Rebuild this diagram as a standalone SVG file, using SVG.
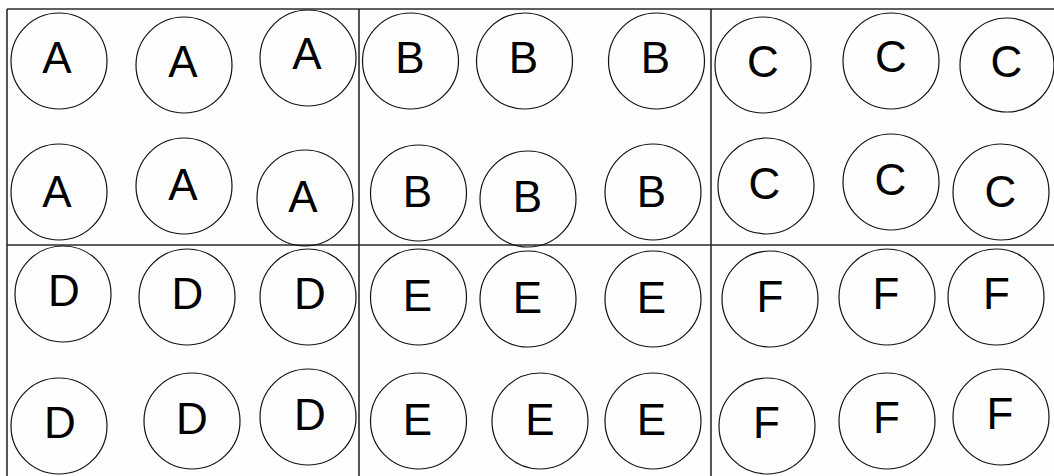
<svg xmlns="http://www.w3.org/2000/svg" width="1054" height="476" viewBox="0 0 1054 476">
<style>
.g{stroke:#2a2a2a;stroke-width:1.6;fill:none}
.n circle{fill:none;stroke:#111;stroke-width:1.2}
.n text{font-family:"Liberation Sans",Arial,sans-serif;font-size:44px;fill:#000;text-anchor:middle}
</style>
<rect width="1054" height="476" fill="#fefefe"/>
<g id="grid" class="g">
<line x1="7" y1="9" x2="1054" y2="9"/>
<line x1="7" y1="9" x2="7" y2="476"/>
<line x1="359" y1="9" x2="359" y2="476"/>
<line x1="711" y1="9" x2="711" y2="476"/>
<line x1="7" y1="245" x2="1054" y2="245"/>
</g>
<g id="A1" class="n"><circle cx="59" cy="61" r="48"/><text x="57" y="73">A</text></g>
<g id="A2" class="n"><circle cx="184" cy="65" r="48"/><text x="183" y="77">A</text></g>
<g id="A3" class="n"><circle cx="308" cy="58" r="48"/><text x="307" y="69">A</text></g>
<g id="A4" class="n"><circle cx="59" cy="192" r="48"/><text x="57" y="207">A</text></g>
<g id="A5" class="n"><circle cx="184" cy="186" r="48"/><text x="183" y="200">A</text></g>
<g id="A6" class="n"><circle cx="305" cy="198" r="48"/><text x="303" y="212">A</text></g>
<g id="B1" class="n"><circle cx="410.5" cy="61" r="48"/><text x="410" y="73">B</text></g>
<g id="B2" class="n"><circle cx="524.5" cy="61" r="48"/><text x="523.5" y="73">B</text></g>
<g id="B3" class="n"><circle cx="656.5" cy="61" r="48"/><text x="655.5" y="73">B</text></g>
<g id="B4" class="n"><circle cx="418.5" cy="193" r="48"/><text x="417.5" y="207">B</text></g>
<g id="B5" class="n"><circle cx="528" cy="199" r="48"/><text x="527.5" y="212">B</text></g>
<g id="B6" class="n"><circle cx="653" cy="192" r="48"/><text x="651.5" y="207">B</text></g>
<g id="C1" class="n"><circle cx="763" cy="65" r="48"/><text x="763" y="77">C</text></g>
<g id="C2" class="n"><circle cx="891" cy="61" r="48"/><text x="891" y="72">C</text></g>
<g id="C3" class="n"><circle cx="1007" cy="65" r="47"/><text x="1006.5" y="77">C</text></g>
<g id="C4" class="n"><circle cx="766" cy="186" r="48"/><text x="764.5" y="199">C</text></g>
<g id="C5" class="n"><circle cx="891" cy="182" r="48"/><text x="890.5" y="195">C</text></g>
<g id="C6" class="n"><circle cx="1001" cy="192" r="48"/><text x="1000.5" y="207">C</text></g>
<g id="D1" class="n"><circle cx="63" cy="294" r="48"/><text x="64" y="306">D</text></g>
<g id="D2" class="n"><circle cx="187" cy="297" r="48"/><text x="187.5" y="309">D</text></g>
<g id="D3" class="n"><circle cx="308" cy="297" r="48"/><text x="310" y="309">D</text></g>
<g id="D4" class="n"><circle cx="59" cy="426" r="48"/><text x="60" y="438">D</text></g>
<g id="D5" class="n"><circle cx="192" cy="421" r="48"/><text x="192" y="434">D</text></g>
<g id="D6" class="n"><circle cx="308" cy="417" r="48"/><text x="310" y="430">D</text></g>
<g id="E1" class="n"><circle cx="418.5" cy="297" r="48"/><text x="417.5" y="311">E</text></g>
<g id="E2" class="n"><circle cx="528" cy="299" r="48"/><text x="527.5" y="313">E</text></g>
<g id="E3" class="n"><circle cx="653" cy="299" r="48"/><text x="651.5" y="313">E</text></g>
<g id="E4" class="n"><circle cx="418.5" cy="421" r="48"/><text x="417.5" y="435">E</text></g>
<g id="E5" class="n"><circle cx="540" cy="421" r="48"/><text x="540" y="435">E</text></g>
<g id="E6" class="n"><circle cx="653" cy="421" r="48"/><text x="651.5" y="435">E</text></g>
<g id="F1" class="n"><circle cx="770" cy="299" r="48"/><text x="770" y="312">F</text></g>
<g id="F2" class="n"><circle cx="887" cy="297" r="48"/><text x="886" y="309">F</text></g>
<g id="F3" class="n"><circle cx="996" cy="297" r="48"/><text x="996.5" y="309">F</text></g>
<g id="F4" class="n"><circle cx="767" cy="426" r="48"/><text x="766.5" y="438">F</text></g>
<g id="F5" class="n"><circle cx="887" cy="421" r="48"/><text x="886.5" y="433">F</text></g>
<g id="F6" class="n"><circle cx="1001" cy="417" r="48"/><text x="1000" y="429">F</text></g>
</svg>
